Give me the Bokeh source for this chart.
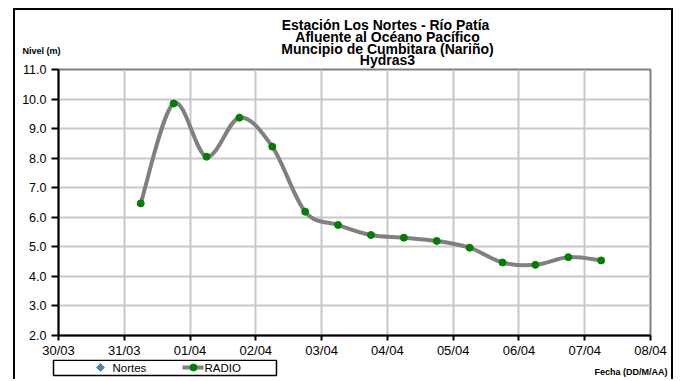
import numpy as np
import pandas as pd
from bokeh.plotting import figure
from bokeh.models import (Range1d, FixedTicker, DatetimeTickFormatter, PrintfTickFormatter,
                          Label, BoxAnnotation)
from bokeh.embed import file_html
from bokeh.resources import INLINE

# ---------------- data ----------------
radio_times = ["2011-03-31 06:00", "2011-03-31 18:00", "2011-04-01 06:00", "2011-04-01 18:00",
               "2011-04-02 06:00", "2011-04-02 18:00", "2011-04-03 06:00", "2011-04-03 18:00",
               "2011-04-04 06:00", "2011-04-04 18:00", "2011-04-05 06:00", "2011-04-05 18:00",
               "2011-04-06 06:00", "2011-04-06 18:00", "2011-04-07 06:00"]
radio_levels = [6.47, 9.85, 8.05, 9.37, 8.39, 6.19, 5.74, 5.40, 5.31, 5.20, 4.97, 4.47, 4.39, 4.65, 4.54]
nortes_times = []
nortes_levels = []
day_ticks = ["2011-03-30", "2011-03-31", "2011-04-01", "2011-04-02", "2011-04-03",
             "2011-04-04", "2011-04-05", "2011-04-06", "2011-04-07", "2011-04-08"]
level_ticks = [2.0, 3.0, 4.0, 5.0, 6.0, 7.0, 8.0, 9.0, 10.0, 11.0]
title_lines = ["Estación Los Nortes  - Río Patía", "Afluente al Océano Pacífico",
               "Muncipio de Cumbitara (Nariño)", "Hydras3"]
y_title = "Nivel (m)"
x_title = "Fecha (DD/M/AA)"
series_names = ["Nortes", "RADIO"]

FONT = "Liberation Sans"
LINE_COLOR = "#808080"
DOT_COLOR = "#008000"
NORTES_COLOR = "#4F81BD"


def to_ms(vals):
    if len(vals) == 0:
        return np.array([], dtype=float)
    return (pd.to_datetime(pd.Series(vals, dtype="object")).values
            .astype("datetime64[ms]").astype(np.int64).astype(float))


xs = to_ms(radio_times)
ys = np.array(radio_levels, dtype=float)
tick_ms = list(to_ms(day_ticks))

W = 660
OX, OY = 15, 10            # page position of the content box
HEAD_BOTTOM = 72           # page y where the header canvas ends
MAIN_TOP = 62              # page y where the (transparent-bordered) main canvas starts
MAIN_BOTTOM = 372          # page y where the main canvas ends (footer overlaps it)
FOOT_TOP = 361
PAGE_BOTTOM = 381
FRAME_L, FRAME_R, FRAME_T, FRAME_B = 58, 650, 71, 337
H_HEAD = HEAD_BOTTOM - OY
H_MAIN = MAIN_BOTTOM - MAIN_TOP
H_FOOT = PAGE_BOTTOM - FOOT_TOP
BORDER = "2px solid black"


def blank_fig(h):
    f = figure(width=W, height=h, output_backend="svg", toolbar_location=None, title=None,
               x_axis_type=None, y_axis_type=None, min_border=0,
               x_range=Range1d(0, W), y_range=Range1d(h, 0))
    f.grid.visible = False
    f.outline_line_color = None
    f.background_fill_color = "white"
    f.border_fill_color = "white"
    return f


# ---------------- header ----------------
head = blank_fig(H_HEAD)
head.styles = {"margin-left": "13px", "margin-top": "8px", "border-left": BORDER,
               "border-top": BORDER, "border-right": BORDER}
for txt, yc in zip(title_lines, [24, 36, 48, 59.5]):
    head.add_layout(Label(x=387 - OX, y=yc - OY, text=txt, text_font=FONT,
                          text_font_style="bold", text_font_size="14px",
                          text_align="center", text_baseline="middle", text_color="black"))
head.add_layout(Label(x=22 - OX, y=50 - OY, text=y_title, text_font=FONT,
                      text_font_style="bold", text_font_size="9px",
                      text_align="left", text_baseline="middle", text_color="black"))

# ---------------- main chart ----------------
p = figure(width=W, height=H_MAIN, x_axis_type="datetime", output_backend="svg",
           toolbar_location=None, title=None,
           x_range=Range1d(tick_ms[0], tick_ms[-1]),
           y_range=Range1d(level_ticks[0], level_ticks[-1]),
           min_border_left=FRAME_L - OX, min_border_right=OX + W - FRAME_R,
           min_border_top=FRAME_T - MAIN_TOP, min_border_bottom=MAIN_BOTTOM - FRAME_B)
p.styles = {"margin-left": "13px", "margin-top": f"{MAIN_TOP - HEAD_BOTTOM}px",
            "border-left": BORDER, "border-right": BORDER}
p.background_fill_color = "white"
p.border_fill_alpha = 0.0
p.outline_line_color = "#808080"
p.outline_line_width = 2

p.xaxis.ticker = FixedTicker(ticks=tick_ms)
fmt = "%d/%m"
p.xaxis.formatter = DatetimeTickFormatter(days=fmt, months=fmt, hours=fmt, years=fmt,
                                          minutes=fmt, seconds=fmt, milliseconds=fmt,
                                          minsec=fmt, hourmin=fmt)
p.yaxis.ticker = FixedTicker(ticks=level_ticks)
p.yaxis.formatter = PrintfTickFormatter(format="%.1f")
for ax in (p.xaxis[0], p.yaxis[0]):
    ax.axis_line_color = "black"
    ax.axis_line_width = 2
    ax.major_tick_line_color = "black"
    ax.major_tick_line_width = 2
    ax.major_tick_in = 0
    ax.minor_tick_line_color = None
    ax.major_label_text_font = FONT
    ax.major_label_text_color = "black"
p.xaxis.major_tick_out = 5
p.xaxis.major_label_standoff = 2
p.xaxis.major_label_text_font_size = "13px"
p.yaxis.major_tick_out = 7
p.yaxis.major_label_standoff = 5
p.yaxis.major_label_text_font_size = "12.5px"

p.xgrid.grid_line_color = "#c8c8c8"
p.ygrid.grid_line_color = "#c8c8c8"
p.xgrid.grid_line_width = 2
p.ygrid.grid_line_width = 2

# smoothed line (Catmull-Rom Bezier segments, as in spreadsheet smoothing)
n = len(xs)
x0, y0, x1, y1, cx0, cy0, cx1, cy1 = [], [], [], [], [], [], [], []
for i in range(n - 1):
    ia = i - 1 if i > 0 else i
    ib = i + 2 if i + 2 < n else i + 1
    x0.append(xs[i]); y0.append(ys[i]); x1.append(xs[i + 1]); y1.append(ys[i + 1])
    cx0.append(xs[i] + (xs[i + 1] - xs[ia]) / 6.0)
    cy0.append(ys[i] + (ys[i + 1] - ys[ia]) / 6.0)
    cx1.append(xs[i + 1] - (xs[ib] - xs[i]) / 6.0)
    cy1.append(ys[i + 1] - (ys[ib] - ys[i]) / 6.0)
p.bezier(x0=x0, y0=y0, x1=x1, y1=y1, cx0=cx0, cy0=cy0, cx1=cx1, cy1=cy1,
         line_color=LINE_COLOR, line_width=4, line_cap="round")
p.scatter(xs, ys, size=7, color=DOT_COLOR)
p.scatter(to_ms(nortes_times), nortes_levels, marker="diamond", size=8, color=NORTES_COLOR)

# ---------------- footer (legend + x title) ----------------
foot = blank_fig(H_FOOT)
foot.styles = {"margin-left": "13px", "margin-top": f"{FOOT_TOP - MAIN_BOTTOM}px",
               "border-left": BORDER, "border-right": BORDER}


def fy(py):
    return py - FOOT_TOP


foot.add_layout(BoxAnnotation(left=53 - OX, right=276 - OX, top=fy(361.75), bottom=fy(377),
                              fill_color="white", fill_alpha=1, line_color="black",
                              line_width=1.5, line_alpha=1, level="underlay"))
foot.scatter([100 - OX], [fy(369)], marker="square", angle=np.pi / 4, size=5.5,
             color=NORTES_COLOR)
foot.add_layout(Label(x=112 - OX, y=fy(369), text=series_names[0], text_font=FONT,
                      text_font_size="11.5px", text_color="black",
                      text_align="left", text_baseline="middle"))
foot.line([182 - OX, 203 - OX], [fy(369), fy(369)], line_color=LINE_COLOR, line_width=4)
foot.scatter([193 - OX], [fy(369)], size=7, color=DOT_COLOR)
foot.add_layout(Label(x=204 - OX, y=fy(369), text=series_names[1], text_font=FONT,
                      text_font_size="11.5px", text_color="black",
                      text_align="left", text_baseline="middle"))
foot.add_layout(Label(x=667 - OX, y=fy(373), text=x_title, text_font=FONT,
                      text_font_style="bold", text_font_size="9px",
                      text_align="right", text_baseline="middle", text_color="black"))

open("out.html", "w").write(file_html([head, p, foot], INLINE))
